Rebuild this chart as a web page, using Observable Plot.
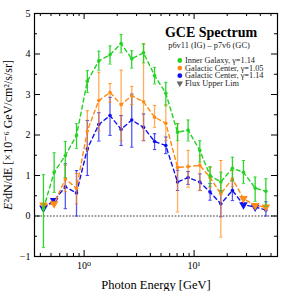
<!DOCTYPE html>
<html><head><meta charset="utf-8">
<script src="https://cdn.jsdelivr.net/npm/d3@7"></script>
<script src="https://cdn.jsdelivr.net/npm/@observablehq/plot@0.6"></script>
<style>body{margin:0;background:#fff} svg{display:block} svg text{font-family:'Liberation Serif','DejaVu Serif',serif}</style>
</head><body><div id="chart"></div>
<script>
// Photon energy bin centres [GeV]
const energy = [0.427,0.534,0.675,0.853,1.07,1.36,1.72,2.17,2.71,3.47,4.37,5.53,7.07,8.82,11.27,13.97,17.5,22.3,28.1,35.9,44.9];

// Inner Galaxy, gamma = 1.14
const igValue = [0.18,1.08,1.49,1.99,3.33,3.83,3.98,4.26,3.88,4.03,3.47,3.03,2.07,2.12,1.62,1.00,0.84,1.18,1.08,0.69,0.61];
const igLow   = [-0.78,0.58,0.95,1.67,3.05,3.60,3.75,4.03,3.65,3.78,3.26,2.72,1.86,1.85,1.33,0.73,0.59,0.86,0.80,0.36,0.24];
const igHigh  = [1.02,1.56,1.84,2.28,3.59,4.07,4.20,4.48,4.08,4.25,3.67,3.30,2.28,2.37,1.86,1.22,1.08,1.45,1.37,0.96,0.92];
const igUL    = [0,0,0,0,0,0,0,0,0,0,0,0,0,0,0,0,0,0,0,0,0];

// Galactic Center, gamma = 1.05
const gc105Value = [0.27,0.30,0.92,0.68,2.10,2.85,3.05,2.75,2.97,2.82,2.44,2.29,1.20,1.22,1.25,0.95,0.55,0.92,0.43,0.26,0.22];
const gc105Low   = [null,null,0.60,0.30,1.62,2.10,2.81,1.86,2.75,1.86,2.19,1.86,0.10,0.71,0.63,0.70,-0.52,0.72,null,null,null];
const gc105High  = [null,null,1.25,1.05,2.60,3.55,3.27,3.60,3.20,4.25,2.73,2.75,2.28,1.62,1.49,1.20,1.37,1.12,null,null,null];
const gc105UL    = [1,1,0,0,0,0,0,0,0,0,0,0,0,0,0,0,0,0,1,1,1];

// Galactic Center, gamma = 1.14
const gc114Value = [0.20,0.38,0.72,0.57,1.66,2.26,2.48,2.14,2.37,2.19,1.84,1.74,0.84,0.95,0.84,0.59,0.30,0.63,0.28,0.22,0.15];
const gc114Low   = [null,null,0.18,0.00,1.00,1.85,1.99,1.74,1.70,1.86,1.64,1.54,0.63,0.78,0.63,0.39,-0.02,0.38,null,null,0.00];
const gc114High  = [null,null,1.29,1.12,2.36,2.55,2.93,2.48,3.01,2.52,2.03,1.95,1.13,1.10,1.04,0.80,0.63,0.88,null,null,0.35];
const gc114UL    = [1,1,0,0,0,0,0,0,0,0,0,0,0,0,0,0,0,0,1,1,0];

const seriesNames  = ["Inner Galaxy, γ=1.14","Galactic Center, γ=1.05","Galactic Center, γ=1.14"];
const seriesColors = ["#22d322","#ff8a14","#1010f0"];
const ulLabel = "Flux Upper Lim";
const titleText = "GCE Spectrum";
const subtitleText = "p6v11 (IG) – p7v6 (GC)";
const xLabel = "Photon Energy [GeV]";
const yLabel = "E²dN/dE [×10⁻⁶ GeV/cm²/s/sr]";

const xMajorTicks = [1, 10];
const xMinorTicks = [0.4,0.5,0.6,0.7,0.8,0.9,2,3,4,5,6,7,8,9,20,30,40,50];
const yMajorTicks = [-1,0,1,2,3,4,5];
const yMinorTicks = [-0.5,0.5,1.5,2.5,3.5,4.5];

function build(values, low, high, ul, name) {
  return energy.map((e,i) => ({energy:e, value:values[i], low:low[i], high:high[i], ul:!!ul[i], series:name}));
}
const series = [
  build(igValue, igLow, igHigh, igUL, seriesNames[0]),
  build(gc105Value, gc105Low, gc105High, gc105UL, seriesNames[1]),
  build(gc114Value, gc114Low, gc114High, gc114UL, seriesNames[2])
];

const W = 282, H = 291;
const mL = 34, mR = 5, mT = 13, mB = 35;
const pw = W - mL - mR, ph = H - mT - mB;

const capSymbol = {draw(ctx, size){ const r = Math.sqrt(size/Math.PI); ctx.moveTo(-r,0); ctx.lineTo(r,0); }};
const serif = "'Liberation Serif', 'DejaVu Serif', serif";

const marks = [];
marks.push(Plot.ruleY([0], {stroke:"#777", strokeWidth:1.3, strokeDasharray:"1.6,1.6"}));
[2,1,0].forEach(k => {
  const d = series[k], c = seriesColors[k];
  const err = d.filter(p => p.low != null);
  marks.push(Plot.line(d, {x:"energy", y:"value", stroke:c, strokeWidth:1.4, strokeDasharray:"4,3.2"}));
  marks.push(Plot.ruleX(err, {x:"energy", y1:"low", y2:"high", stroke:c, strokeWidth:1.3, strokeOpacity: k===0 ? 0.95 : 0.7}));
  marks.push(Plot.dot(err, {x:"energy", y:"low", symbol:capSymbol, r:1.7, stroke:c, strokeWidth:1, strokeOpacity:0.8}));
  marks.push(Plot.dot(err, {x:"energy", y:"high", symbol:capSymbol, r:1.7, stroke:c, strokeWidth:1, strokeOpacity:0.8}));
  marks.push(Plot.dot(d.filter(p => !p.ul), {x:"energy", y:"value", r:1.8, fill:c}));
  marks.push(Plot.dot(d.filter(p => p.ul), {x:"energy", y:"value", symbol:"triangle", rotate:180, r:3.2, fill:c}));
});
// inward ticks on all four sides
marks.push(Plot.tickX(xMajorTicks, {x:d=>d, insetTop: ph-6, stroke:"black"}));
marks.push(Plot.tickX(xMajorTicks, {x:d=>d, insetBottom: ph-6, stroke:"black"}));
marks.push(Plot.tickX(xMinorTicks, {x:d=>d, insetTop: ph-3, stroke:"black"}));
marks.push(Plot.tickX(xMinorTicks, {x:d=>d, insetBottom: ph-3, stroke:"black"}));
marks.push(Plot.tickY(yMajorTicks, {y:d=>d, insetRight: pw-6, stroke:"black"}));
marks.push(Plot.tickY(yMajorTicks, {y:d=>d, insetLeft: pw-6, stroke:"black"}));
marks.push(Plot.tickY(yMinorTicks, {y:d=>d, insetRight: pw-3, stroke:"black"}));
marks.push(Plot.tickY(yMinorTicks, {y:d=>d, insetLeft: pw-3, stroke:"black"}));
marks.push(Plot.frame({stroke:"black", strokeWidth:1.2}));
// axes
const sup = {"0":"⁰","1":"¹","2":"²","3":"³","-":"⁻"};
marks.push(Plot.axisX({ticks:xMajorTicks, tickSize:0, tickPadding:5, fontSize:10, fontFamily:serif,
  tickFormat: d => "10" + String(Math.round(Math.log10(d))).split("").map(c=>sup[c]).join(""), label:null}));
marks.push(Plot.axisX({ticks:[], tickSize:0, label:xLabel, labelAnchor:"center", labelArrow:"none", fontSize:12.5, fontFamily:serif}));
marks.push(Plot.axisY({ticks:yMajorTicks, tickSize:0, tickPadding:4, fontSize:10, fontFamily:serif, tickFormat: d => d < 0 ? "−" + Math.abs(d) : String(d), label:null}));
marks.push(Plot.axisY({ticks:[], tickSize:0, label:yLabel, labelAnchor:"center", labelArrow:"none", fontSize:12, fontFamily:serif}));
// title, subtitle, legend
marks.push(Plot.text([titleText], {text:d=>d, frameAnchor:"top-left", dx:176.5, dy:19, fontSize:14, fontWeight:"bold", fontFamily:serif, textAnchor:"middle", lineAnchor:"middle", fill:"black"}));
marks.push(Plot.text([subtitleText], {text:d=>d, frameAnchor:"top-left", dx:174.5, dy:32, fontSize:8.4, fontFamily:serif, textAnchor:"middle", lineAnchor:"middle", fill:"#222"}));
seriesNames.forEach((name,i) => {
  marks.push(Plot.dot([name], {frameAnchor:"top-left", dx:145.3, dy:47+i*7.6, r:2.4, fill:seriesColors[i]}));
  marks.push(Plot.text([name], {text:d=>d, frameAnchor:"top-left", dx:150.5, dy:47+i*7.6, fontSize:8.3, fontFamily:serif, textAnchor:"start", lineAnchor:"middle", fill:"#222"}));
});
marks.push(Plot.dot([ulLabel], {frameAnchor:"top-left", dx:145.3, dy:47+3*7.6, symbol:"triangle", rotate:180, r:2.4, fill:"#666"}));
marks.push(Plot.text([ulLabel], {text:d=>d, frameAnchor:"top-left", dx:150.5, dy:47+3*7.6, fontSize:8.3, fontFamily:serif, textAnchor:"start", lineAnchor:"middle", fill:"#222"}));

const chart = Plot.plot({
  width: W, height: H,
  marginLeft: mL, marginRight: mR, marginTop: mT, marginBottom: mB,
  style: {fontFamily: serif, background:"white", color:"black"},
  x: {type:"log", domain:[0.354, 57.3]},
  y: {domain:[-1, 5]},
  marks
});
document.getElementById("chart").appendChild(chart);

// italic leading E in the y label
d3.select(chart).selectAll("text").each(function(){
  const t = this.textContent;
  if (t === yLabel) {
    const s = d3.select(this);
    s.text(null);
    s.append("tspan").attr("font-style","italic").text("E");
    s.append("tspan").text(t.slice(1));
  }
});
</script>
</body></html>
